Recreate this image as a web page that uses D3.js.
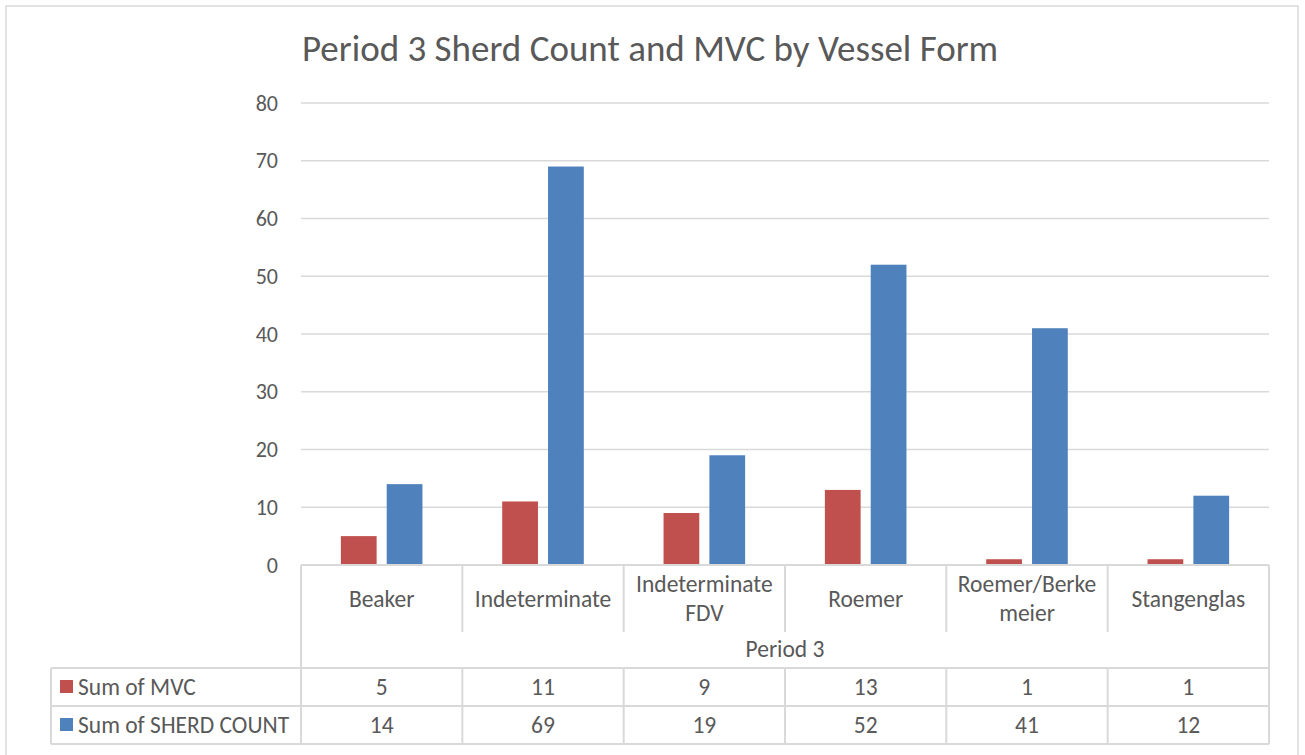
<!DOCTYPE html>
<html>
<head>
<meta charset="utf-8">
<script src="https://cdn.jsdelivr.net/npm/d3@7"></script>
<style>
  body { margin: 0; background: #fff; }
  text { font-family: Carlito, Calibri, "Open Sans", sans-serif; fill: #595959; }
</style>
</head>
<body>
<div id="chart"></div>
<script>
var svgWidth = 1305;
var svgHeight = 755;

// data
var categories = ["Beaker", "Indeterminate", "Indeterminate FDV", "Roemer", "Roemer/Berkemeier", "Stangenglas"];
var categoryLines = [["Beaker"], ["Indeterminate"], ["Indeterminate", "FDV"], ["Roemer"], ["Roemer/Berke", "meier"], ["Stangenglas"]];
var seriesNames = ["Sum of MVC", "Sum of SHERD COUNT"];
var mvc = [5, 11, 9, 13, 1, 1];
var sherdCount = [14, 69, 19, 52, 41, 12];
var yTicks = [0, 10, 20, 30, 40, 50, 60, 70, 80];
var groupLabel = "Period 3";
var colors = ["#C0504D", "#4F81BD"];

var plot = { left: 301, right: 1269, top: 103, bottom: 565 };
var labelSize = "23.5px";

var svg = d3.select("#chart")
  .append("svg")
  .attr("width", svgWidth)
  .attr("height", svgHeight);

// outer chart border
svg.append("rect")
  .attr("x", 6).attr("y", 6)
  .attr("width", 1292).attr("height", 760)
  .attr("fill", "none")
  .attr("stroke", "#d9d9d9")
  .attr("stroke-width", 1.5);

// title
svg.append("text")
  .attr("x", 302)
  .attr("y", 61)
  .attr("font-size", "37px")
  .text("Period 3 Sherd Count and MVC by Vessel Form");

var x0 = d3.scaleBand()
  .domain(categories)
  .range([plot.left, plot.right]);

var x1 = d3.scaleBand()
  .domain(seriesNames)
  .range([0, x0.bandwidth()])
  .paddingInner(0.22)
  .paddingOuter(0.87);

var y = d3.scaleLinear()
  .domain([0, 80])
  .range([plot.bottom, plot.top]);

// gridlines
svg.append("g")
  .selectAll("line")
  .data(yTicks.slice(1))
  .enter()
  .append("line")
  .attr("x1", plot.left)
  .attr("x2", plot.right)
  .attr("y1", d => y(d))
  .attr("y2", d => y(d))
  .attr("stroke", "#d9d9d9")
  .attr("stroke-width", 1.5);

// y axis labels
var leftAxis = d3.axisLeft(y).tickValues(yTicks).tickSize(0).tickPadding(23);
var yAxis = svg.append("g")
  .attr("transform", `translate(${plot.left}, 0)`)
  .call(leftAxis);
yAxis.select(".domain").remove();
yAxis.selectAll("text")
  .attr("font-size", "22px")
  .attr("fill", "#595959")
  .attr("font-family", "Carlito, Calibri, 'Open Sans', sans-serif");

// bars
var seriesData = [mvc, sherdCount];
seriesData.forEach(function(vals, si) {
  svg.append("g")
    .selectAll("rect")
    .data(vals)
    .enter()
    .append("rect")
    .attr("x", (d, i) => x0(categories[i]) + x1(seriesNames[si]))
    .attr("width", x1.bandwidth())
    .attr("y", d => y(d))
    .attr("height", d => y(0) - y(d))
    .attr("fill", colors[si]);
});

// data table
var rowCatBottom = 632;
var rowPeriodBottom = 668;
var rowMvcBottom = 706;
var rowSherdBottom = 744;
var tableLeft = 51;
var lineColor = "#d9d9d9";

var table = svg.append("g")
  .attr("stroke", lineColor)
  .attr("stroke-width", 2);

// horizontal lines
table.append("line").attr("x1", plot.left).attr("x2", plot.right).attr("y1", plot.bottom).attr("y2", plot.bottom);
[rowPeriodBottom, rowMvcBottom, rowSherdBottom].forEach(function(yy) {
  table.append("line").attr("x1", tableLeft).attr("x2", plot.right).attr("y1", yy).attr("y2", yy);
});

// vertical lines
table.append("line").attr("x1", plot.left).attr("x2", plot.left).attr("y1", plot.bottom).attr("y2", rowSherdBottom);
table.append("line").attr("x1", plot.right).attr("x2", plot.right).attr("y1", plot.bottom).attr("y2", rowSherdBottom);
table.append("line").attr("x1", tableLeft).attr("x2", tableLeft).attr("y1", rowPeriodBottom).attr("y2", rowSherdBottom);
table.selectAll(".catdiv")
  .data(categories.slice(1))
  .enter()
  .append("line")
  .attr("x1", d => x0(d)).attr("x2", d => x0(d))
  .attr("y1", plot.bottom).attr("y2", rowCatBottom);
table.selectAll(".valdiv")
  .data(categories.slice(1))
  .enter()
  .append("line")
  .attr("x1", d => x0(d)).attr("x2", d => x0(d))
  .attr("y1", rowPeriodBottom).attr("y2", rowSherdBottom);

// category labels
var catLabels = svg.append("g");
categoryLines.forEach(function(lines, i) {
  var cx = x0(categories[i]) + x0.bandwidth() / 2;
  var startY = lines.length === 1 ? 607 : 592;
  lines.forEach(function(line, li) {
    catLabels.append("text")
      .attr("x", cx)
      .attr("y", startY + li * 29)
      .attr("text-anchor", "middle")
      .attr("font-size", labelSize)
      .text(line);
  });
});

// group label
svg.append("text")
  .attr("x", (plot.left + plot.right) / 2)
  .attr("y", 657)
  .attr("text-anchor", "middle")
  .attr("font-size", labelSize)
  .text(groupLabel);

// value rows with legend keys
var rowBaselines = [695, 733];
seriesData.forEach(function(vals, si) {
  svg.append("rect")
    .attr("x", 60)
    .attr("y", rowBaselines[si] - 15)
    .attr("width", 13)
    .attr("height", 13)
    .attr("fill", colors[si]);
  svg.append("text")
    .attr("x", 78)
    .attr("y", rowBaselines[si])
    .attr("font-size", labelSize)
    .text(seriesNames[si]);
  svg.append("g")
    .selectAll("text")
    .data(vals)
    .enter()
    .append("text")
    .attr("x", (d, i) => x0(categories[i]) + x0.bandwidth() / 2)
    .attr("y", rowBaselines[si])
    .attr("text-anchor", "middle")
    .attr("font-size", labelSize)
    .text(d => d);
});
</script>
</body>
</html>
